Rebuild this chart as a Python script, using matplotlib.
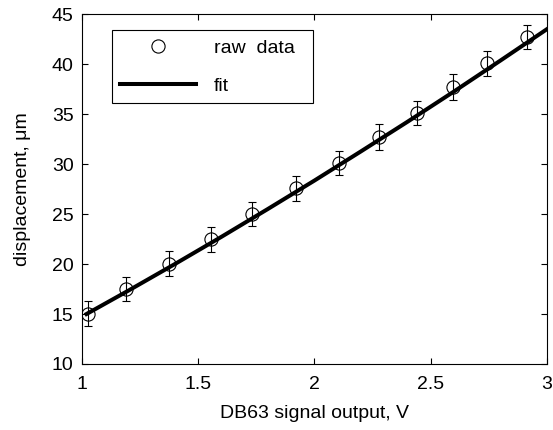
import numpy as np
import matplotlib
matplotlib.use("Agg")
import matplotlib.pyplot as plt

plt.rcParams['font.family'] = ['Liberation Sans', 'DejaVu Sans']

# raw data
volts = [1.027, 1.192, 1.376, 1.555, 1.73, 1.923, 2.105, 2.28, 2.44, 2.594, 2.743, 2.915]
disp = [15.05, 17.5, 20.05, 22.5, 25.0, 27.6, 30.1, 32.7, 35.1, 37.7, 40.1, 42.7]
err = [1.27, 1.2, 1.25, 1.25, 1.2, 1.25, 1.2, 1.3, 1.2, 1.3, 1.25, 1.22]

# fit curve
fit_x = [1.02, 1.2, 1.4, 1.6, 1.8, 2.0, 2.2, 2.4, 2.6, 2.8, 3.0]
fit_y = [15.0, 17.34, 20.0, 22.72, 25.51, 28.35, 31.27, 34.23, 37.26, 40.36, 43.5]

fig = plt.figure(figsize=(5.53, 4.3), dpi=100)
ax = fig.add_axes([0.148, 0.1535, 0.841, 0.8135])

# error bars (no legend entry), then open circles, then fit line
ax.errorbar(volts, disp, yerr=err, fmt='none', ecolor='black', elinewidth=0.8,
            capsize=2.6, capthick=0.8, zorder=3)
ax.plot(volts, disp, 'o', mfc='none', mec='black', ms=9.5, mew=0.8,
        label='raw  data', zorder=3)
ax.plot(fit_x, fit_y, color='black', lw=2.9, label='fit', zorder=4)

ax.set_xlim(1, 3)
ax.set_ylim(10, 45)
ax.set_xticks([1, 1.5, 2, 2.5, 3])
ax.set_xticklabels(['1', '1.5', '2', '2.5', '3'])
ax.set_yticks(np.arange(10, 46, 5))
ax.tick_params(direction='in', top=True, right=True, length=4, width=0.8,
               labelsize=14)
ax.tick_params(axis='x', pad=8.5)
ax.tick_params(axis='y', pad=6)
for s in ax.spines.values():
    s.set_linewidth(0.8)

ax.set_xlabel('DB63 signal output, V', fontsize=14, labelpad=9)
ax.set_ylabel('displacement, \u03bcm', fontsize=14, labelpad=15)

leg = ax.legend(loc='upper left', bbox_to_anchor=(0.064, 0.3, 0.432, 0.654),
                mode='expand', fontsize=14,
                frameon=True, fancybox=False, edgecolor='black', framealpha=1,
                handlelength=3.9, labelspacing=1.05, borderpad=0.45,
                handletextpad=0.9, borderaxespad=0)
leg.get_frame().set_linewidth(0.8)

fig.savefig('out.png', dpi=100)
